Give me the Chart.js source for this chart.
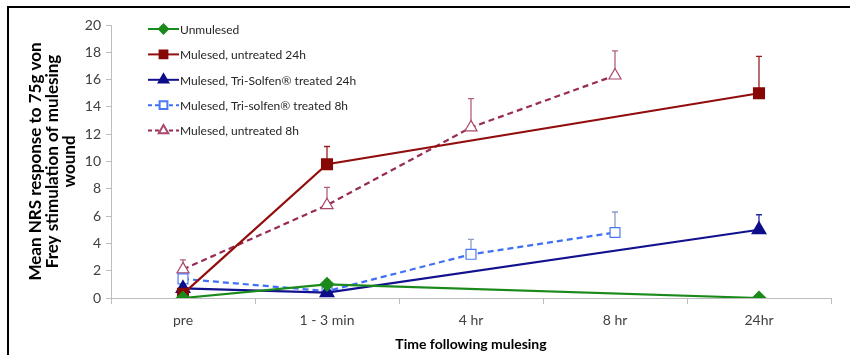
<!DOCTYPE html>
<html>
<head>
<meta charset="utf-8">
<script src="https://cdn.jsdelivr.net/npm/chart.js@4.4.1/dist/chart.umd.min.js"></script>
<style>
  body { margin: 0; background: #fff; }
  #wrap { width: 850px; height: 355px; }
</style>
</head>
<body>
<div id="wrap"><canvas id="nrsChart" width="850" height="355"></canvas></div>
<script>
// categories and values
const timeLabels = ['pre', '1 - 3 min', '4 hr', '8 hr', '24hr'];

const unmulesed      = [0,   1.0, null, null, 0];
const untreated24    = [0.3, 9.8, null, null, 15.0];
const triSolfen24    = [0.7, 0.4, null, null, 5.0];
const triSolfen8     = [1.4, 0.5, 3.2,  4.8,  null];
const untreated8     = [2.1, 6.8, 12.5, 16.3, null];

// top of the error bars
const unmulesedErr   = [null, 1.3, null, null, null];
const untreated24Err = [null, 11.1, null, null, 17.7];
const triSolfen24Err = [null, null, null, null, 6.1];
const triSolfen8Err  = [null, null, 4.3, 6.3, null];
const untreated8Err  = [2.8, 8.1, 14.6, 18.1, null];

const yTicks = [0, 2, 4, 6, 8, 10, 12, 14, 16, 18, 20];

const fontFam = 'Lato, "Open Sans", sans-serif';

const ctx_nrs = document.getElementById('nrsChart');

// border of the figure (top and left)
const frameLines = {
  id: 'frameLines',
  beforeDraw(chart) {
    const c = chart.ctx;
    c.save();
    c.fillStyle = '#fff';
    c.fillRect(0, 0, chart.width, chart.height);
    c.strokeStyle = '#000';
    c.lineWidth = 2;
    c.beginPath();
    c.moveTo(8, 355);
    c.lineTo(8, 7);
    c.lineTo(850, 7);
    c.stroke();
    c.restore();
  }
};

// upper error bars
const errorBars = {
  id: 'errorBars',
  beforeDatasetsDraw(chart) {
    const c = chart.ctx;
    const x = chart.scales.x;
    const y = chart.scales.y;
    chart.data.datasets.forEach((ds) => {
      if (!ds.errTop) return;
      c.save();
      c.strokeStyle = ds.errColor;
      c.lineWidth = 1.3;
      ds.errTop.forEach((top, i) => {
        if (top === null || ds.data[i] === null) return;
        const px = x.getPixelForValue(i);
        const y0 = y.getPixelForValue(ds.data[i]);
        const y1 = y.getPixelForValue(top);
        c.beginPath();
        c.moveTo(px, y0);
        c.lineTo(px, y1);
        c.moveTo(px - 3, y1);
        c.lineTo(px + 3, y1);
        c.stroke();
      });
      c.restore();
    });
  }
};

// vertical legend in the top left of the plot
const sideLegend = {
  id: 'sideLegend',
  afterDraw(chart) {
    const c = chart.ctx;
    c.save();
    c.font = '12px ' + fontFam;
    c.textBaseline = 'middle';
    chart.data.datasets.forEach((ds, i) => {
      const ly = 29 + i * 25.4;
      c.strokeStyle = ds.borderColor;
      c.lineWidth = 2;
      c.setLineDash(ds.borderDash ? [4, 3] : []);
      c.beginPath();
      c.moveTo(148, ly);
      c.lineTo(179, ly);
      c.stroke();
      c.setLineDash([]);
      c.fillStyle = ds.pointBackgroundColor;
      c.strokeStyle = ds.pointBorderColor;
      Chart.helpers.drawPoint(c, {
        pointStyle: ds.pointStyle,
        radius: ds.pointRadius - 1.5,
        rotation: 0,
        borderWidth: 1.2
      }, 163.5, ly);
      c.fillStyle = '#262626';
      c.fillText(ds.label, 180, ly + 1);
    });
    c.restore();
  }
};

new Chart(ctx_nrs, {
  type: 'line',
  data: {
    labels: timeLabels,
    datasets: [{
      label: 'Unmulesed',
      data: unmulesed,
      errTop: unmulesedErr,
      errColor: '#6b6b3a',
      borderColor: '#1a8a1a',
      borderWidth: 2.2,
      pointStyle: 'rectRot',
      pointRadius: 6,
      pointBackgroundColor: '#1a8a1a',
      pointBorderColor: '#1a8a1a',
      spanGaps: true
    },
    {
      label: 'Mulesed, untreated 24h',
      data: untreated24,
      errTop: untreated24Err,
      errColor: '#9a2020',
      borderColor: '#920e0e',
      borderWidth: 2.2,
      pointStyle: 'rect',
      pointRadius: 7,
      pointBackgroundColor: '#870606',
      pointBorderColor: '#870606',
      spanGaps: true
    },
    {
      label: 'Mulesed, Tri-Solfen® treated 24h',
      data: triSolfen24,
      errTop: triSolfen24Err,
      errColor: '#2a2aa0',
      borderColor: '#12128f',
      borderWidth: 2.2,
      pointStyle: 'triangle',
      pointRadius: 7,
      pointBackgroundColor: '#0d0d8a',
      pointBorderColor: '#0d0d8a',
      spanGaps: true
    },
    {
      label: 'Mulesed, Tri-solfen® treated 8h',
      data: triSolfen8,
      errTop: triSolfen8Err,
      errColor: '#8f9cc4',
      borderColor: '#3f6ff5',
      borderWidth: 2.2,
      borderDash: [6, 4],
      pointStyle: 'rect',
      pointRadius: 7,
      pointBorderWidth: 1.2,
      pointBackgroundColor: '#fff',
      pointBorderColor: '#4a78f5',
      spanGaps: true
    },
    {
      label: 'Mulesed, untreated 8h',
      data: untreated8,
      errTop: untreated8Err,
      errColor: '#b0607e',
      borderColor: '#982c55',
      borderWidth: 2.2,
      borderDash: [6, 4],
      pointStyle: 'triangle',
      pointRadius: 7,
      pointBorderWidth: 1.2,
      pointBackgroundColor: '#fff',
      pointBorderColor: '#a8486e',
      spanGaps: true
    }]
  },
  options: {
    responsive: false,
    animation: false,
    layout: {
      padding: { left: 10, top: 25, right: 19, bottom: 0 }
    },
    scales: {
      x: {
        offset: true,
        afterFit: (s) => { s.height = 57; },
        border: { color: '#bdbdbd' },
        grid: {
          offset: true,
          drawOnChartArea: false,
          tickLength: 6,
          color: '#bdbdbd'
        },
        ticks: {
          color: '#404040',
          padding: 8,
          font: { family: fontFam, size: 14 }
        },
        title: {
          display: true,
          text: 'Time following mulesing',
          color: '#000',
          padding: { top: 0, bottom: 2 },
          font: { family: fontFam, size: 14, weight: 'bold' }
        }
      },
      y: {
        min: 0,
        max: 20,
        afterFit: (s) => { s.width = 101; },
        afterBuildTicks: (s) => { s.ticks = yTicks.map(v => ({ value: v })); },
        border: { color: '#bdbdbd' },
        grid: {
          drawOnChartArea: false,
          tickLength: 5,
          color: '#bdbdbd'
        },
        ticks: {
          color: '#404040',
          padding: 5,
          font: { family: fontFam, size: 14 }
        },
        title: {
          display: true,
          text: ['Mean NRS response to 75g von', 'Frey stimulation of mulesing', 'wound'],
          color: '#000',
          padding: { top: 17, bottom: 0 },
          font: { family: fontFam, size: 17, weight: 'bold', lineHeight: 1.0 }
        }
      }
    },
    plugins: {
      legend: { display: false },
      tooltip: { enabled: false }
    }
  },
  plugins: [frameLines, errorBars, sideLegend]
});
</script>
</body>
</html>
